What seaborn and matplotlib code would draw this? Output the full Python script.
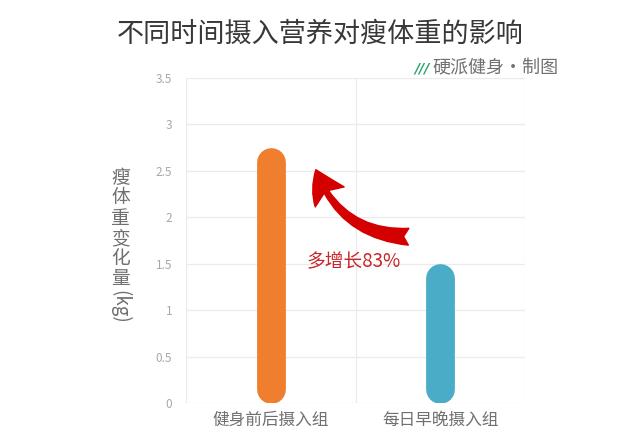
import seaborn as sns
import matplotlib.pyplot as plt
import pandas as pd

groups = ["健身前后摄入组", "每日早晚摄入组"]
gain = [2.75, 1.5]
colors = ["#EF7F2F", "#4AACC6"]
yticks = [0, 0.5, 1, 1.5, 2, 2.5, 3, 3.5]
ytick_labels = ["0", "0.5", "1", "1.5", "2", "2.5", "3", "3.5"]

sns.set_theme(style="white")
plt.rcParams["font.family"] = ["Noto Sans CJK SC", "DejaVu Sans"]

fig = plt.figure(figsize=(6.4, 4.45), dpi=100)
ax = fig.add_axes([0.291, 0.094, 0.529, 0.731])

df = pd.DataFrame({"group": groups, "gain": gain})
sns.barplot(data=df, x="group", y="gain", hue="group", palette=colors,
            width=0.17, legend=False, ax=ax)

ax.set_xlim(-0.5, 1.5)
ax.set_ylim(0, 3.5)
ax.set_yticks(yticks)
ax.set_yticklabels(ytick_labels)

# turn the bars into pills (round caps on both ends)
fig.canvas.draw()
bb = ax.get_window_extent()
px_x = bb.width / 2.0
px_y = bb.height / 3.5
for p, c in zip(list(ax.patches), colors):
    x0, w, h = p.get_x(), p.get_width(), p.get_height()
    p.remove()
    w_px = w * px_x
    ry = (w_px / 2) / px_y
    xc = x0 + w / 2
    ax.plot([xc, xc], [ry, h - ry], color=c, lw=w_px * 72 / fig.dpi,
            solid_capstyle="round", zorder=3)

# grid
for y in yticks:
    ax.axhline(y, color="#EBEBEB", lw=0.9, zorder=0)
for x in [-0.5, 0.5, 1.5]:
    ax.axvline(x, color="#EBEBEB", lw=0.9, zorder=0)
for s in ax.spines.values():
    s.set_visible(False)

ax.tick_params(axis="y", labelsize=8.5, colors="#A8A8A8", length=0, pad=10)
ax.tick_params(axis="x", labelsize=12, colors="#707070", length=0, pad=6)
ax.set_xlabel("")
ax.set_ylabel("")

# y label, stacked chars
fig.text(0.188, 0.487, "瘦\n体\n重\n变\n化\n量", ha="center", va="center",
         fontsize=13.5, color="#707070", linespacing=0.95)
fig.text(0.188, 0.31, "(kg)", ha="center", va="center", rotation=-90,
         fontsize=13.5, color="#707070")

# arrow and note
ax.annotate("", xy=(0.26, 2.54), xytext=(0.83, 1.79),
            arrowprops=dict(arrowstyle="fancy,head_length=1.0,head_width=1.15,tail_width=0.55",
                            connectionstyle="arc3,rad=-0.35", fc="#D40000", ec="#D40000",
                            mutation_scale=22),
            zorder=4)
ax.text(0.765, 1.52, "多增长83%", ha="right", va="center", fontsize=13.5, color="#C8262B")

# title and brand
fig.text(0.5, 0.922, "不同时间摄入营养对瘦体重的影响", ha="center", va="center",
         fontsize=19.5, color="#383838")
fig.text(0.659, 0.847, "///", ha="center", va="center", fontsize=10, color="#2BA36B",
         fontweight="bold", style="italic", family="DejaVu Sans")
fig.text(0.675, 0.847, "硬派健身·制图", ha="left", va="center", fontsize=13, color="#707070")

fig.savefig("out.png", dpi=100)
